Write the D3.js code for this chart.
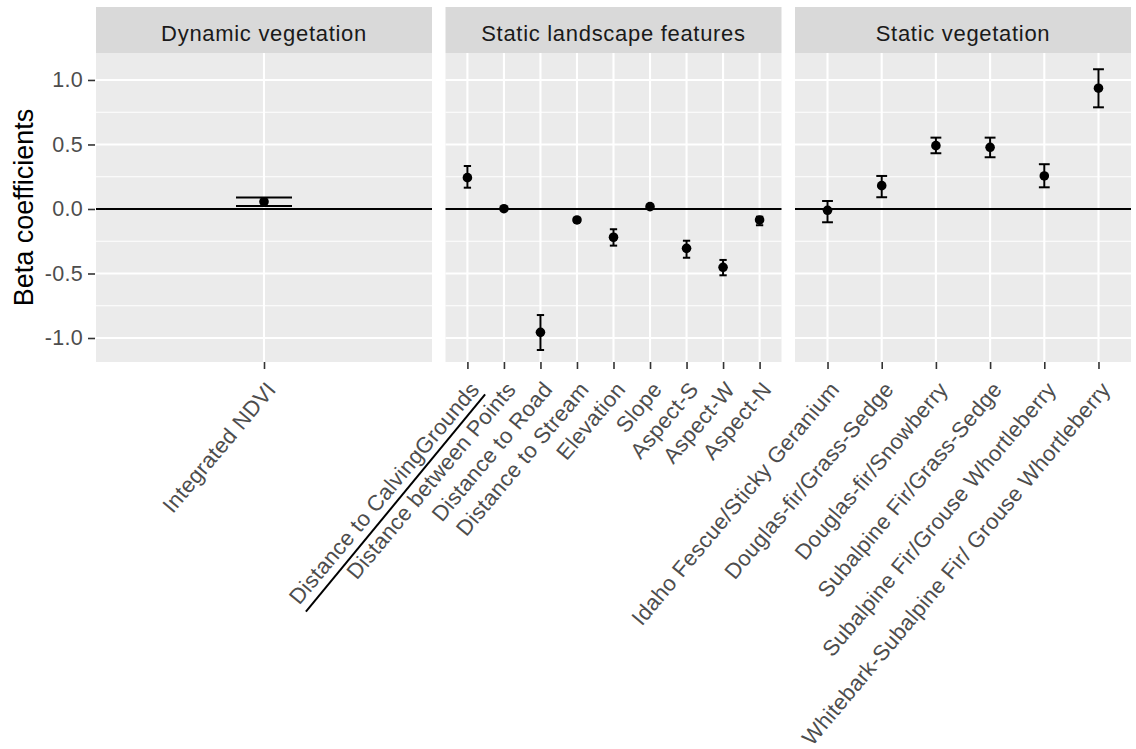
<!DOCTYPE html>
<html>
<head>
<meta charset="utf-8">
<script src="https://cdn.jsdelivr.net/npm/d3@7"></script>
<style>
  body { margin: 0; background: #ffffff; }
  svg { display: block; }
</style>
</head>
<body>
<svg id="chart" width="1136" height="749"></svg>
<script>
// ---- data -------------------------------------------------------------
const facetNames = ["Dynamic vegetation", "Static landscape features", "Static vegetation"];

const dynamicTerms = ["Integrated NDVI"];
const dynamicBeta  = [0.056];
const dynamicLower = [0.023];
const dynamicUpper = [0.089];

const landscapeTerms = ["Distance to CalvingGrounds", "Distance between Points", "Distance to Road",
  "Distance to Stream", "Elevation", "Slope", "Aspect-S", "Aspect-W", "Aspect-N"];
const landscapeBeta  = [0.243, 0.002, -0.956, -0.085, -0.219, 0.018, -0.305, -0.452, -0.085];
const landscapeLower = [0.165, -0.008, -1.093, -0.100, -0.284, 0.008, -0.378, -0.514, -0.126];
const landscapeUpper = [0.333, 0.012, -0.822, -0.070, -0.157, 0.028, -0.246, -0.395, -0.060];

const vegetationTerms = ["Idaho Fescue/Sticky Geranium", "Douglas-fir/Grass-Sedge", "Douglas-fir/Snowberry",
  "Subalpine Fir/Grass-Sedge", "Subalpine Fir/Grouse Whortleberry", "Whitebark-Subalpine Fir/ Grouse Whortleberry"];
const vegetationBeta  = [-0.010, 0.181, 0.491, 0.478, 0.256, 0.936];
const vegetationLower = [-0.103, 0.091, 0.432, 0.401, 0.168, 0.788];
const vegetationUpper = [0.062, 0.256, 0.553, 0.553, 0.347, 1.083];

const yMajorTicks = [-1.0, -0.5, 0.0, 0.5, 1.0];
const yMinorTicks = [-0.75, -0.25, 0.25, 0.75];
const yDomain = [-1.186, 1.209];
const yTitle = "Beta coefficients";

// ---- assemble facets ----------------------------------------------------
function rows(terms, beta, lower, upper) {
  return terms.map((t, i) => ({ term: t, beta: beta[i], lower: lower[i], upper: upper[i] }));
}
const facets = [
  { name: facetNames[0], rows: rows(dynamicTerms, dynamicBeta, dynamicLower, dynamicUpper) },
  { name: facetNames[1], rows: rows(landscapeTerms, landscapeBeta, landscapeLower, landscapeUpper) },
  { name: facetNames[2], rows: rows(vegetationTerms, vegetationBeta, vegetationLower, vegetationUpper) }
];

// ---- layout -----------------------------------------------------------
const FONT = "'Liberation Sans', Arial, sans-serif";
const plotLeft = 96, plotRight = 1131, panelGap = 13.5;
const stripTop = 7, panelTop = 53, panelBottom = 362;
const panelW = (plotRight - plotLeft - 2 * panelGap) / facets.length;
const labelAngle = -50;

const svg = d3.select("#chart");
const y = d3.scaleLinear().domain(yDomain).range([panelBottom, panelTop]);

// y axis: tick marks, labels and title (left of the first panel)
const yAxis = d3.axisLeft(y).tickValues(yMajorTicks).tickSize(7).tickPadding(5);
const yAxisG = svg.append("g").attr("transform", `translate(${plotLeft - 1},0)`).call(yAxis);
yAxisG.select(".domain").remove();
yAxisG.selectAll(".tick line").attr("stroke", "#333333").attr("stroke-width", 1.6);
yAxisG.selectAll(".tick text")
  .attr("fill", "#4d4d4d").attr("font-family", FONT).attr("font-size", 21.5)
  .attr("letter-spacing", 0.3)
  .text(d => d3.format(".1f")(d).replace("\u2212", "-"));

svg.append("text")
  .attr("transform", `translate(33,${(panelTop + panelBottom) / 2}) rotate(-90)`)
  .attr("text-anchor", "middle")
  .attr("font-family", FONT).attr("font-size", 27).attr("fill", "#000")
  .text(yTitle);

facets.forEach((f, fi) => {
  const x0 = plotLeft + fi * (panelW + panelGap);
  const x = d3.scalePoint().domain(f.rows.map(r => r.term)).range([x0, x0 + panelW]).padding(0.6);
  const capHalf = 0.1 * x.step();   // error-bar width of 0.2 category units
  const g = svg.append("g");

  // strip
  g.append("rect").attr("x", x0).attr("y", stripTop).attr("width", panelW).attr("height", panelTop - stripTop)
    .attr("fill", "#d9d9d9");
  g.append("text").attr("x", x0 + panelW / 2).attr("y", (stripTop + panelTop) / 2 + 3)
    .attr("dy", "0.35em").attr("text-anchor", "middle")
    .attr("font-family", FONT).attr("font-size", 22).attr("letter-spacing", 0.7).attr("fill", "#1a1a1a")
    .text(f.name);

  // panel background and grid
  g.append("rect").attr("x", x0).attr("y", panelTop).attr("width", panelW).attr("height", panelBottom - panelTop)
    .attr("fill", "#ebebeb");
  g.selectAll(".minor").data(yMinorTicks).join("line")
    .attr("x1", x0).attr("x2", x0 + panelW).attr("y1", d => y(d)).attr("y2", d => y(d))
    .attr("stroke", "#ffffff").attr("stroke-width", 1.1);
  g.selectAll(".major").data(yMajorTicks).join("line")
    .attr("x1", x0).attr("x2", x0 + panelW).attr("y1", d => y(d)).attr("y2", d => y(d))
    .attr("stroke", "#ffffff").attr("stroke-width", 2.1);
  g.selectAll(".vgrid").data(f.rows).join("line")
    .attr("x1", d => x(d.term)).attr("x2", d => x(d.term)).attr("y1", panelTop).attr("y2", panelBottom)
    .attr("stroke", "#ffffff").attr("stroke-width", 2.1);

  // reference line at zero
  g.append("line").attr("x1", x0).attr("x2", x0 + panelW).attr("y1", y(0)).attr("y2", y(0))
    .attr("stroke", "#000").attr("stroke-width", 1.9);

  // error bars
  const eb = g.selectAll(".eb").data(f.rows).join("g").attr("stroke", "#000").attr("stroke-width", 2);
  eb.append("line").attr("x1", d => x(d.term)).attr("x2", d => x(d.term))
    .attr("y1", d => y(d.lower)).attr("y2", d => y(d.upper));
  eb.append("line").attr("x1", d => x(d.term) - capHalf).attr("x2", d => x(d.term) + capHalf)
    .attr("y1", d => y(d.lower)).attr("y2", d => y(d.lower));
  eb.append("line").attr("x1", d => x(d.term) - capHalf).attr("x2", d => x(d.term) + capHalf)
    .attr("y1", d => y(d.upper)).attr("y2", d => y(d.upper));

  // point estimates
  g.selectAll(".pt").data(f.rows).join("circle")
    .attr("cx", d => x(d.term)).attr("cy", d => y(d.beta)).attr("r", 4.8).attr("fill", "#000");

  // x axis ticks and rotated labels
  const xAxis = d3.axisBottom(x).tickSize(7).tickFormat("");
  const xAxisG = svg.append("g").attr("transform", `translate(0,${panelBottom})`).call(xAxis);
  xAxisG.select(".domain").remove();
  xAxisG.selectAll(".tick line").attr("stroke", "#333333").attr("stroke-width", 1.6);

  svg.append("g").selectAll("text").data(f.rows).join("text")
    .attr("transform", d => `translate(${x(d.term) + 13},${panelBottom + 28}) rotate(${labelAngle})`)
    .attr("text-anchor", "end")
    .attr("font-family", FONT).attr("font-size", 22).attr("letter-spacing", 0.3).attr("fill", "#4d4d4d")
    .text(d => d.term);

  // hand-drawn underline beneath the first landscape label
  if (fi === 1) {
    const tx = x(f.rows[0].term);
    svg.append("line")
      .attr("x1", tx - 161.5).attr("y1", 611.7)
      .attr("x2", tx + 17.7).attr("y2", 394.3)
      .attr("stroke", "#000").attr("stroke-width", 2);
  }
});
</script>
</body>
</html>
